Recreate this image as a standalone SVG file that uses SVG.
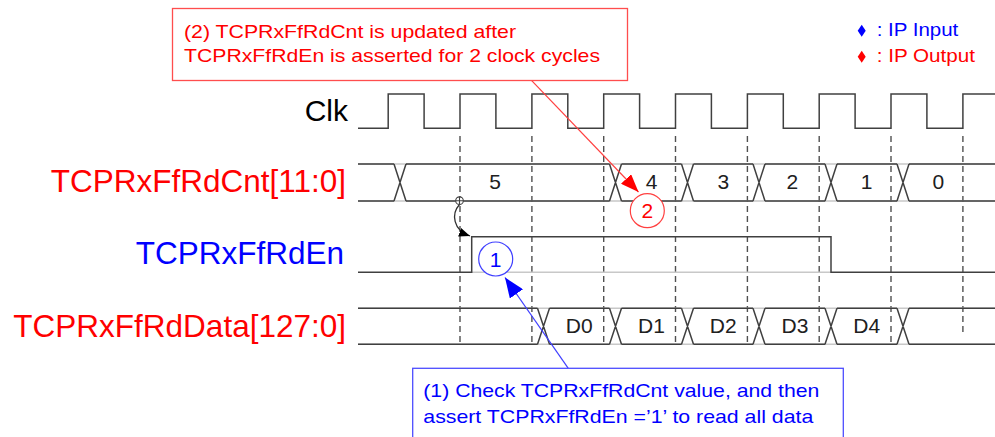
<svg xmlns="http://www.w3.org/2000/svg" width="995" height="437" viewBox="0 0 995 437">
<style>
text{font-family:"Liberation Sans",Arial,sans-serif}
.sig{fill:none;stroke:#404040;stroke-width:1.5}
.ghost{fill:none;stroke:#c8c8c8;stroke-width:1.5}
.dash{fill:none;stroke:#505050;stroke-width:1.4;stroke-dasharray:6 4}
.lbl{font-size:31.5px;text-anchor:end}
.val{font-size:21px;text-anchor:middle;fill:#202020}
.red{fill:#ff0000}
.blue{fill:#0000ff}
.note{font-size:19px}
</style>
<defs>
<marker id="arrRed" markerUnits="userSpaceOnUse" markerWidth="18" markerHeight="14" refX="18" refY="7" orient="auto"><path d="M0,0 L18,7 L0,14 z" fill="#ff0000"/></marker>
<marker id="arrBlue" markerUnits="userSpaceOnUse" markerWidth="20" markerHeight="16" refX="20" refY="8" orient="auto"><path d="M0,0 L20,8 L0,16 z" fill="#0000ff"/></marker>
<marker id="arrBlk" markerUnits="userSpaceOnUse" markerWidth="11" markerHeight="9" refX="11" refY="4.5" orient="auto"><path d="M0,0 L11,4.5 L0,9 z" fill="#000000"/></marker>
</defs>
<rect width="995" height="437" fill="#ffffff"/>

<g id="labels">
<text class="lbl" x="348" y="121" fill="#000000" style="font-size:30px">Clk</text>
<text class="lbl red" x="346" y="191.5">TCPRxFfRdCnt[11:0]</text>
<text class="lbl blue" x="344" y="263.5">TCPRxFfRdEn</text>
<text class="lbl red" x="346" y="337">TCPRxFfRdData[127:0]</text>
</g>

<g id="legend">
<polygon points="861.7,24.7 865.7,30.7 861.7,36.7 857.7,30.7" fill="#0000ff"/>
<text class="blue" x="876.7" y="36" font-size="18" textLength="81.6" lengthAdjust="spacingAndGlyphs">: IP Input</text>
<polygon points="861.7,50.7 865.7,56.7 861.7,62.7 857.7,56.7" fill="#ff0000"/>
<text class="red" x="876.7" y="62" font-size="18" textLength="98.3" lengthAdjust="spacingAndGlyphs">: IP Output</text>
</g>

<g id="gridlines">
<path class="dash" d="M460,136V344 M531.9,136V344 M603.7,136V344 M675.5,136V344 M747.4,136V344 M819.2,136V344 M891,136V344 M962.9,136V336"/>
</g>

<g id="clk">
<path class="sig" d="M358,128.3 H388.2 V94 H424.1 V128.3 H460 V94 H495.9 V128.3 H531.9 V94 H567.8 V128.3 H603.7 V94 H639.6 V128.3 H675.5 V94 H711.4 V128.3 H747.4 V94 H783.3 V128.3 H819.2 V94 H855.1 V128.3 H891 V94 H926.9 V128.3 H962.9 V94 H995"/>
</g>

<g id="cnt">
<path class="ghost" d="M358,164H995 M358,201H995"/>
<path class="sig" d="M358,164H394 M406,164H609.5 M621.5,164H681.5 M693.5,164H753 M765,164H825 M837,164H897 M909,164H995
M358,201H394 M406,201H609.5 M621.5,201H681.5 M693.5,201H753 M765,201H825 M837,201H897 M909,201H995
M394,164L406,201 M394,201L406,164
M609.5,164L621.5,201 M609.5,201L621.5,164
M681.5,164L693.5,201 M681.5,201L693.5,164
M753,164L765,201 M753,201L765,164
M825,164L837,201 M825,201L837,164
M897,164L909,201 M897,201L909,164"/>
<text class="val" x="495" y="189">5</text>
<text class="val" x="651.5" y="189">4</text>
<text class="val" x="723.3" y="189">3</text>
<text class="val" x="792.3" y="189">2</text>
<text class="val" x="866.7" y="189">1</text>
<text class="val" x="938.3" y="189">0</text>
</g>

<g id="en">
<path class="ghost" d="M471.7,272.3H831"/>
<path class="sig" d="M358,272.3 H471.7 V236.7 H831 V272.3 H995"/>
</g>

<g id="data">
<path class="ghost" d="M358,308.3H995 M358,344.3H995"/>
<path class="sig" d="M358,308.3H537.5 M549.5,308.3H609.5 M621.5,308.3H681.5 M693.5,308.3H753 M765,308.3H825 M837,308.3H897 M909,308.3H995
M358,344.3H537.5 M549.5,344.3H609.5 M621.5,344.3H681.5 M693.5,344.3H753 M765,344.3H825 M837,344.3H897 M909,344.3H995
M537.5,308.3L549.5,344.3 M537.5,344.3L549.5,308.3
M609.5,308.3L621.5,344.3 M609.5,344.3L621.5,308.3
M681.5,308.3L693.5,344.3 M681.5,344.3L693.5,308.3
M753,308.3L765,344.3 M753,344.3L765,308.3
M825,308.3L837,344.3 M825,344.3L837,308.3
M897,308.3L909,344.3 M897,344.3L909,308.3"/>
<text class="val" x="579.3" y="333">D0</text>
<text class="val" x="651.5" y="333">D1</text>
<text class="val" x="723.3" y="333">D2</text>
<text class="val" x="795" y="333">D3</text>
<text class="val" x="866.7" y="333">D4</text>
</g>

<g id="connectors">
<path d="M531.7,80.7 L638.5,192" fill="none" stroke="#ff4040" stroke-width="1.2" marker-end="url(#arrRed)"/>
<path d="M568.3,368.3 L505,277.5" fill="none" stroke="#4040ff" stroke-width="1.2" marker-end="url(#arrBlue)"/>
<path d="M459.5,204.5 C451,214 453,230 470,236" fill="none" stroke="#303030" stroke-width="1.3" marker-end="url(#arrBlk)"/>
<g fill="#ffffff" stroke="#404040" stroke-width="1.1">
<circle cx="459.5" cy="200.7" r="3.8"/>
<path d="M455.7,200.7H463.3 M459.5,196.9V204.5" fill="none"/>
</g>
</g>

<g id="note2">
<rect x="172.5" y="8.5" width="455" height="72" fill="#ffffff" stroke="#ff4d4d" stroke-width="1.3"/>
<text class="note red" x="184" y="38.3" textLength="332" lengthAdjust="spacingAndGlyphs">(2) TCPRxFfRdCnt is updated after</text>
<text class="note red" x="184" y="61.7" textLength="416" lengthAdjust="spacingAndGlyphs">TCPRxFfRdEn is asserted for 2 clock cycles</text>
</g>

<g id="marker2">
<circle cx="647.3" cy="210.7" r="17" fill="#ffffff" stroke="#ff4040" stroke-width="1.2"/>
<text x="647.3" y="218.3" font-size="21" text-anchor="middle" fill="#ff0000">2</text>
</g>

<g id="marker1">
<circle cx="495.7" cy="259" r="17" fill="#ffffff" stroke="#4040ff" stroke-width="1.2"/>
<text x="495.7" y="266.5" font-size="21" text-anchor="middle" fill="#0000ff">1</text>
</g>

<g id="note1">
<rect x="412.7" y="368.3" width="430.6" height="80" fill="#ffffff" stroke="#4d4dff" stroke-width="1.3"/>
<text class="note blue" x="423.3" y="396.5" textLength="396" lengthAdjust="spacingAndGlyphs">(1) Check TCPRxFfRdCnt value, and then</text>
<text class="note blue" x="423.3" y="423" textLength="390" lengthAdjust="spacingAndGlyphs">assert TCPRxFfRdEn =’1’ to read all data</text>
</g>
</svg>
